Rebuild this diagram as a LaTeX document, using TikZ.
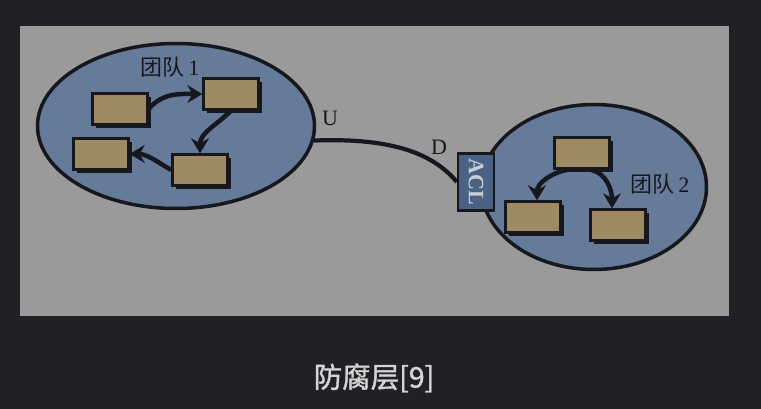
\documentclass[tikz,border=0pt]{standalone}
\usepackage{fontspec}
\setmainfont{Liberation Serif}
\newfontfamily\cjk{Noto Sans CJK SC}
\newfontfamily\cjkcap[FakeBold=1.3]{Noto Sans CJK SC}
\usetikzlibrary{shapes.geometric,shadows,arrows.meta}
\definecolor{bgdark}{RGB}{32,33,36}
\definecolor{panel}{RGB}{154,154,154}
\definecolor{teamfill}{RGB}{102,122,153}
\definecolor{boxfill}{RGB}{158,139,100}
\definecolor{aclfill}{RGB}{74,98,132}
\definecolor{ink}{RGB}{22,24,30}
\definecolor{acltext}{RGB}{200,206,216}
\definecolor{captext}{RGB}{212,212,212}
\tikzset{
  team/.style={ellipse, draw=ink, line width=3.5pt, fill=teamfill, inner sep=0pt},
  card/.style={rectangle, draw=ink, line width=2.4pt, fill=boxfill,
    minimum width=55pt, minimum height=31pt, inner sep=0pt,
    general shadow={fill=ink, shadow xshift=3.5pt, shadow yshift=-3.5pt}},
  flow/.style={draw=ink, line width=4.5pt, -{Stealth[length=15pt,width=18pt,inset=5pt]}},
  link/.style={draw=ink, line width=4.2pt},
  lbl/.style={text=ink, font=\fontsize{22}{24}\selectfont, inner sep=0pt},
  aclbox/.style={rectangle, draw=ink, line width=2.2pt, fill=aclfill,
    minimum width=36pt, minimum height=57pt, inner sep=0pt, text=acltext,
    font=\fontsize{22}{22}\selectfont\bfseries},
  captionstyle/.style={text=captext, font=\cjkcap\fontsize{28.5}{30}\selectfont, inner sep=0pt}
}
\begin{document}
\begin{tikzpicture}[x=1pt,y=1pt]
  \fill[bgdark] (0,0) rectangle (761,-409);
  \path[use as bounding box] (0,0) rectangle (761,-409);
  \fill[panel] (20,-26) rectangle (729,-316);

  % teams
  \node[team, minimum width=277pt, minimum height=165pt] (t1) at (176,-126) {};
  \node[team, minimum width=225pt, minimum height=165pt] (t2) at (594,-187) {};

  % team 1 boxes
  \node[card] (a) at (120,-109) {};
  \node[card] (b) at (231,-94) {};
  \node[card] (c) at (101,-154) {};
  \node[card] (d) at (200,-170) {};

  % team 2 boxes
  \node[card] (t) at (582,-153) {};
  \node[card] (l) at (533,-217) {};
  \node[card] (r) at (618,-225) {};

  % arrows team 1
  \draw[flow] (a.east) to[out=50,in=180] (b.west);
  \draw[flow] (b.south) to[out=225,in=90] (d.north);
  \draw[flow] (d.west) to[out=150,in=0] (c.east);

  % arrows team 2
  \draw[flow] ([xshift=-14pt]t.south) to[out=190,in=90] ([xshift=4pt]l.north);
  \draw[flow] ([xshift=8pt]t.south) to[out=-10,in=90] ([xshift=-6pt]r.north);

  % labels
  \node[lbl] (lab1) at (170,-67) {{\cjk 团队}\,1};
  \node[lbl] (lab2) at (660,-184) {{\cjk 团队}\,2};
  \node[lbl] (u) at (330,-118) {U};
  \node[lbl] (dd) at (439,-147) {D};

  % ACL and connector
  \node[aclbox] (acl) at (476,-182) {\rotatebox{-90}{ACL}};
  \draw[link] (t1.-6) .. controls (385,-138) and (430,-150) .. (acl.west);

  % caption
  \node[captionstyle] (caption) at (374,-378) {防腐层[9]};
\end{tikzpicture}
\end{document}
